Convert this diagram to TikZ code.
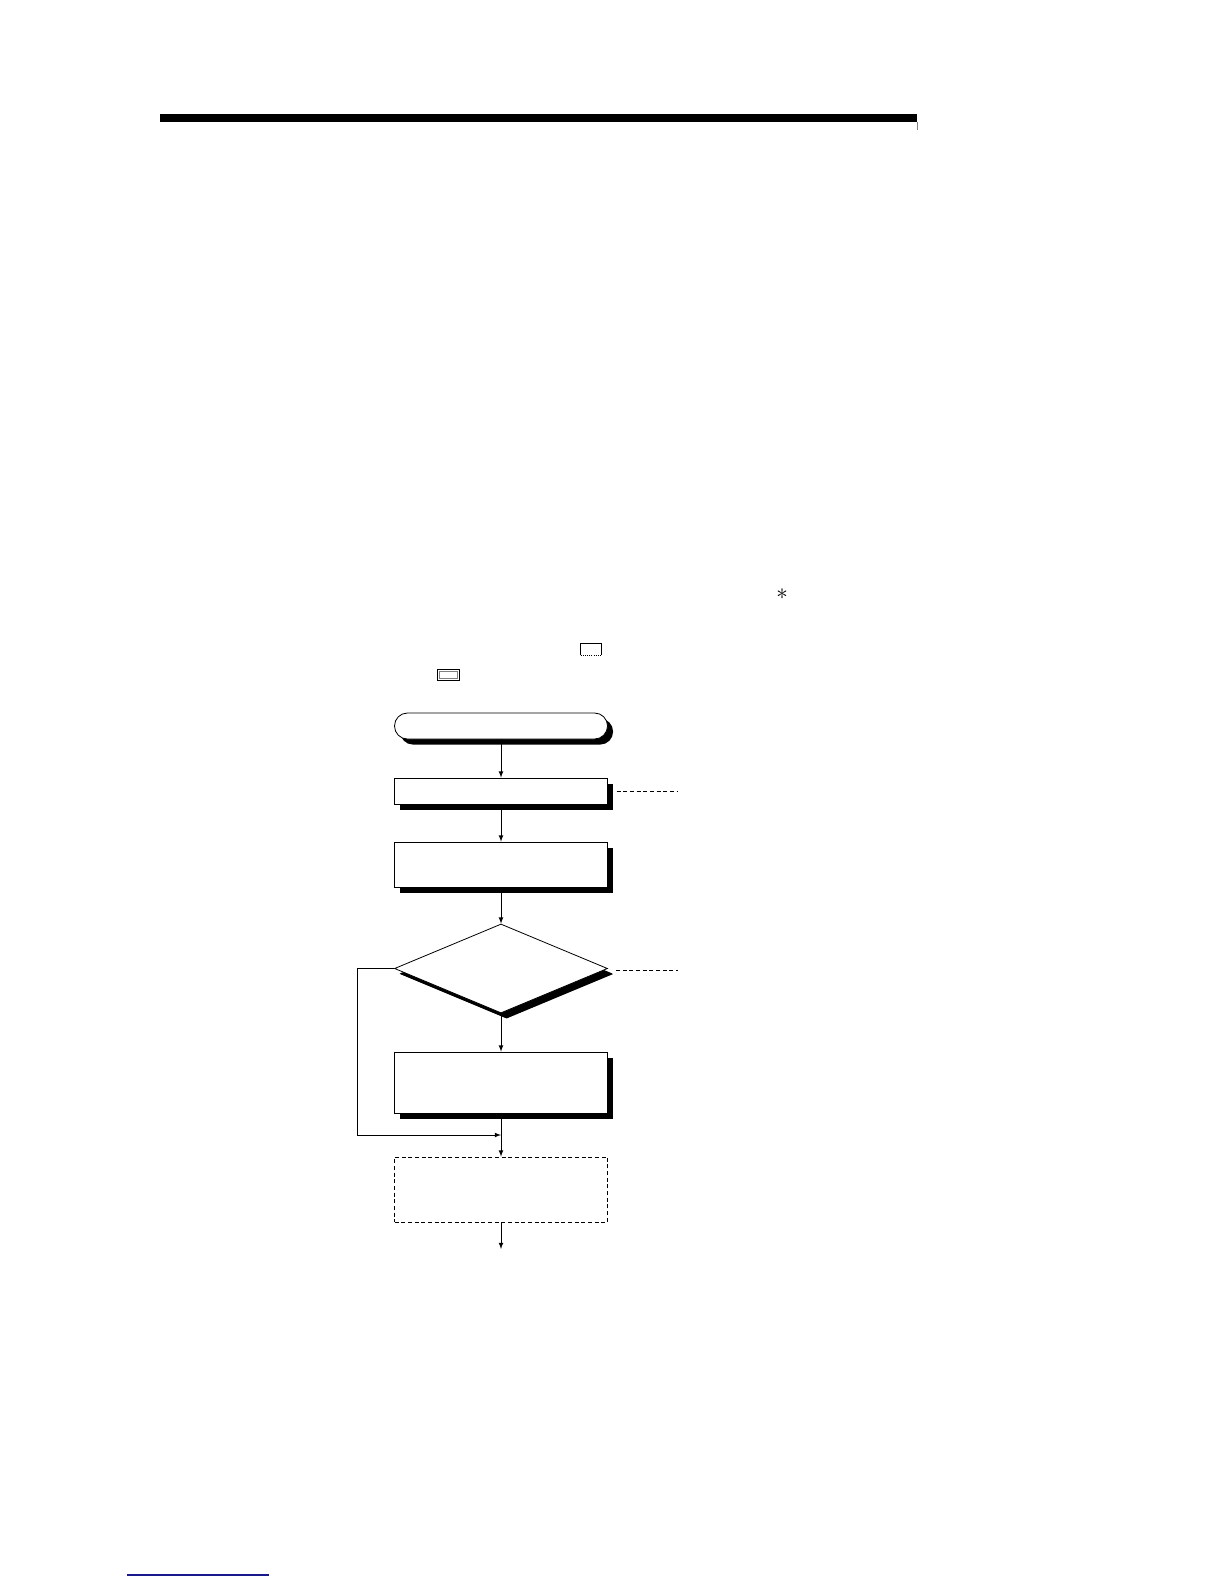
\documentclass[tikz,border=0pt]{standalone}
\usetikzlibrary{shapes.geometric,shadows}
\definecolor{linkblue}{RGB}{25,25,140}
\begin{document}
\begin{tikzpicture}[x = .75pt, y = -.75pt, >=latex, line width = .6pt,
    shade box/.style = {draw, fill = white, inner sep = 0pt, minimum width = 213*.75pt,
      drop shadow = {opacity = 1, fill = black, shadow xshift = 4.2pt, shadow yshift = -4.2pt}},
    term/.style = {shade box, rounded corners = 9.7pt, minimum height = 26*.75pt},
    decision/.style = {shade box, diamond, aspect = 2.4, minimum height = 89*.75pt,
      drop shadow = {opacity = 1, fill = black, shadow xshift = 3.8pt, shadow yshift = -3.8pt}},
    dashed box/.style = {draw, dash pattern = on 3pt off 2pt, inner sep = 0pt,
      minimum width = 213*.75pt, minimum height = 65*.75pt}]
  \useasboundingbox (0,0) rectangle (1224,1584);
  \fill (160,114) rectangle (916.7,122);
  \draw [gray, very thin] (916.7,122) -- (916.7,130);
  \node (star) at (782,594) {\LARGE$\ast$};
  \draw (580.7,655) |- (601.7,643.3) -- (601.7,655);
  \draw [densely dotted] (580.7,655) -- (601.7,655);
  \draw (437.3,669) rectangle (459.3,680.7);
  \draw [gray, thin] (439.6,671.2) rectangle (457,678.5);
  \node [term] (start) at (501,726) {};
  \node [shade box, minimum height = 26*.75pt] (set) at (501,791) {};
  \node [shade box, minimum height = 45*.75pt] (read) at (501,864.5) {};
  \node [decision] (check) at (501,968.5) {};
  \node [shade box, minimum height = 61*.75pt] (proc) at (501,1082.5) {};
  \node [dashed box] (next) at (501,1189.5) {};
  \coordinate (back) at (501,1135);
  \coordinate (end) at (501,1249);
  \coordinate (note1) at (678,791);
  \coordinate (note2) at (678,970);
  \draw [->] (start) -- (set);
  \draw [->] (set) -- (read);
  \draw [->] (read) -- (check);
  \draw [->] (check) -- (proc);
  \draw [->] (proc) -- (next);
  \draw [->] (check.west) -- ++(-37,0) |- (back);
  \draw [->] (next) -- (end);
  \draw [dash pattern = on 3pt off 2pt] ([xshift = 6.5pt]set.east) -- (note1);
  \draw [dash pattern = on 3pt off 2pt] ([xshift = 6pt]check.east |- note2) -- (note2);
  \draw [linkblue, line width = 1.1pt] (127,1575) -- (269,1575);
\end{tikzpicture}
\end{document}
